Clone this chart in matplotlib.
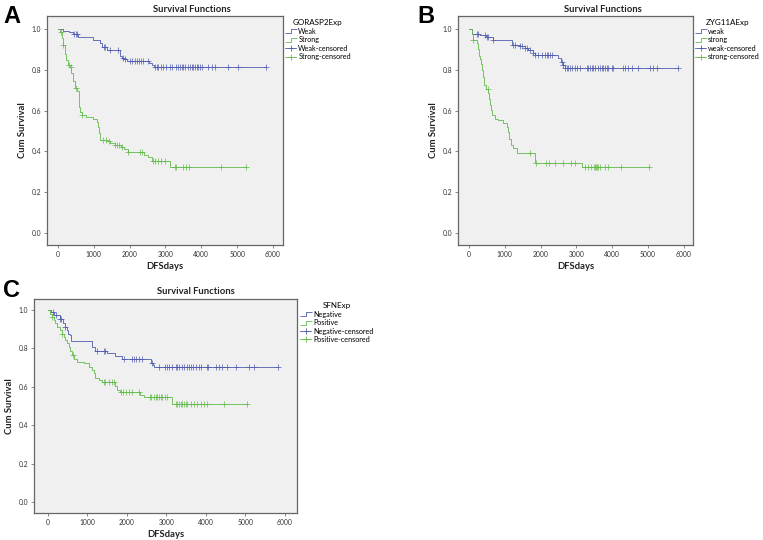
import numpy as np
import matplotlib
matplotlib.use("Agg")
import matplotlib.pyplot as plt
from matplotlib.lines import Line2D
from matplotlib.path import Path

plt.rcParams['font.family'] = ['Lato', 'DejaVu Sans']

W, H = 763, 540  # figure size in px

# ---------------- panel A : GORASP2Exp ----------------
a_weak_t = [0, 150, 300, 430, 570, 990, 1170, 1220, 1360, 1730, 1780, 1830, 1920, 2550, 2610, 2690]
a_weak_s = [1.0, 0.99, 0.985, 0.975, 0.963, 0.948, 0.93, 0.912, 0.895, 0.87, 0.86, 0.853, 0.845,
            0.835, 0.826, 0.815]
a_weak_end = 5810
a_weak_cens = [446, 493, 521, 1283, 1311, 1451, 1683, 1823, 1869, 2009, 2074, 2148, 2195, 2260, 2316,
               2381, 2502, 2707, 2753, 2799, 2874, 2939, 3013, 3125, 3171, 3283, 3339, 3404, 3450,
               3497, 3544, 3618, 3683, 3730, 3776, 3823, 3869, 3916, 3962, 4009, 4195, 4288, 4381,
               4734, 5013, 5810]

a_strong_t = [0, 60, 100, 140, 190, 230, 280, 330, 370, 420, 470, 530, 580, 600, 620, 680, 770, 970,
              1090, 1130, 1150, 1175, 1350, 1440, 1580, 1760, 1850, 1950, 2400, 2510, 2610, 3140]
a_strong_s = [1.0, 0.985, 0.955, 0.92, 0.88, 0.85, 0.825, 0.815, 0.785, 0.745, 0.71, 0.695, 0.67,
              0.62, 0.595, 0.58, 0.568, 0.558, 0.542, 0.522, 0.49, 0.457, 0.449, 0.44, 0.43, 0.42,
              0.41, 0.395, 0.384, 0.372, 0.355, 0.323]
a_strong_end = 5240
a_strong_cens = [75, 140, 298, 354, 512, 680, 1256, 1330, 1423, 1581, 1656, 1702, 1786, 1953, 2279,
                 2353, 2651, 2716, 2791, 2884, 2977, 3256, 3284, 3488, 3581, 3656, 4540, 5240]

# ---------------- panel B : ZYG11AExp ----------------
b_weak_t = [0, 93, 307, 466, 680, 1192, 1424, 1564, 1657, 1797, 1843, 2495, 2569, 2634, 2681]
b_weak_s = [1.0, 0.977, 0.969, 0.961, 0.945, 0.923, 0.917, 0.907, 0.896, 0.884, 0.871, 0.858, 0.839,
            0.826, 0.81]
b_weak_end = 5846
b_weak_cens = [214, 261, 447, 494, 540, 680, 1238, 1285, 1424, 1471, 1564, 1611, 1704, 1797, 1843,
               1936, 2029, 2123, 2169, 2216, 2262, 2309, 2588, 2635, 2681, 2728, 2774, 2821, 2867,
               2960, 3007, 3100, 3287, 3333, 3379, 3426, 3473, 3519, 3612, 3659, 3705, 3752, 3798,
               3845, 3891, 3985, 4031, 4311, 4357, 4451, 4544, 4730, 5056, 5149, 5242, 5846]

b_strong_t = [0, 93, 121, 214, 242, 279, 307, 335, 372, 400, 428, 466, 521, 559, 586, 614, 652, 726,
              819, 959, 1052, 1098, 1126, 1164, 1238, 1331, 1835, 3166]
b_strong_s = [1.0, 0.975, 0.945, 0.93, 0.9, 0.87, 0.855, 0.83, 0.8, 0.765, 0.725, 0.708, 0.684, 0.659,
              0.627, 0.602, 0.578, 0.561, 0.553, 0.537, 0.521, 0.496, 0.463, 0.431, 0.415, 0.392,
              0.345, 0.323]
b_strong_end = 5028
b_strong_cens = [121, 520, 1695, 1863, 2161, 2235, 2393, 2626, 2859, 2952, 3231, 3324, 3417, 3482,
                 3510, 3557, 3575, 3603, 3650, 3790, 3883, 4255, 5028]

# ---------------- panel C : SFNExp ----------------
c_neg_t = [0, 80, 170, 300, 380, 440, 480, 520, 560, 600, 1130, 1200, 1500, 1710, 1880, 2620, 2660,
           2700]
c_neg_s = [1.0, 0.99, 0.973, 0.955, 0.934, 0.912, 0.895, 0.877, 0.869, 0.84, 0.808, 0.786, 0.774,
           0.762, 0.744, 0.725, 0.713, 0.703]
c_neg_end = 5832
c_neg_cens = [135, 220, 304, 338, 447, 1249, 1418, 1460, 1924, 2135, 2178, 2245, 2304, 2372, 2641,
              2810, 2954, 3005, 3064, 3148, 3233, 3275, 3317, 3384, 3444, 3511, 3570, 3612, 3680,
              3739, 3823, 3866, 4018, 4060, 4245, 4330, 4414, 4541, 4752, 5089, 5216, 5832]

c_pos_t = [0, 50, 110, 150, 190, 240, 300, 360, 400, 440, 490, 530, 570, 610, 675, 743, 912, 1038,
           1123, 1165, 1207, 1291, 1376, 1696, 1755, 1823, 2346, 2431, 3148]
c_pos_s = [1.0, 0.979, 0.964, 0.947, 0.93, 0.912, 0.895, 0.877, 0.86, 0.843, 0.826, 0.808, 0.786,
           0.765, 0.744, 0.731, 0.722, 0.705, 0.687, 0.67, 0.648, 0.636, 0.624, 0.602, 0.585, 0.573,
           0.559, 0.545, 0.513]
c_pos_end = 5047
c_pos_cens = [110, 360, 630, 1418, 1460, 1545, 1629, 1671, 1857, 1908, 1967, 2051, 2135, 2304, 2582,
              2616, 2684, 2726, 2768, 2810, 2853, 2895, 2954, 3022, 3233, 3275, 3317, 3359, 3402,
              3444, 3486, 3528, 3612, 3697, 3781, 3866, 3950, 4035, 4457, 5047]

BLUE = '#4f5cb0'
GREEN = '#62bb4a'


def rect(l, t, r, b):
    return [l / W, 1 - b / H, (r - l) / W, (b - t) / H]


def km(ax, t, s, end, cens, color):
    tt = list(t) + [end]
    ss = list(s) + [s[-1]]
    ax.step(tt, ss, where='post', color=color, lw=0.6)
    idx = np.searchsorted(t, cens, side='right') - 1
    ax.plot(cens, np.array(s)[idx], '+', color=color, ms=4, mew=0.5)


step_marker = Path([(-1, -0.35), (0.05, -0.35), (0.05, 0.35), (1, 0.35)],
                   [Path.MOVETO, Path.LINETO, Path.LINETO, Path.LINETO])


def panel(box, xlim, ylim, curves, title, labels, title_x, title_y, leg_x):
    ax = fig.add_axes(rect(*box))
    ax.set_facecolor('#f0f0f0')
    for c in curves:
        km(ax, *c)
    ax.set_xlim(*xlim)
    ax.set_ylim(*ylim)
    ax.set_xticks(np.arange(0, 6001, 1000))
    ax.set_yticks(np.arange(0, 1.01, 0.2))
    ax.yaxis.set_major_formatter(plt.FormatStrFormatter('%.1f'))
    ax.tick_params(direction='out', length=2.5, width=0.5, colors='#555555', labelsize=4.9,
                   pad=1.5, labelcolor='#333333')
    for sp in ax.spines.values():
        sp.set_color('#666666')
        sp.set_linewidth(0.9)
    ax.set_xlabel('DFSdays', fontsize=6.8, fontweight='bold', labelpad=3.5, color='#222222')
    ax.set_ylabel('Cum Survival', fontsize=6.8, fontweight='bold', labelpad=3.5, color='#222222')
    fig.text(title_x / W, 1 - title_y / H, 'Survival Functions', fontsize=6.8, fontweight='bold',
             ha='center', va='center', color='#222222')
    handles = [
        Line2D([], [], color=BLUE, lw=0, marker=step_marker, ms=8.6, mfc='none', mew=0.6),
        Line2D([], [], color=GREEN, lw=0, marker=step_marker, ms=8.6, mfc='none', mew=0.6),
        Line2D([], [], color=BLUE, lw=0.6, marker='+', ms=5, mew=0.6),
        Line2D([], [], color=GREEN, lw=0.6, marker='+', ms=5, mew=0.6),
    ]
    leg = ax.legend(handles, labels, title=title, loc='upper left', bbox_to_anchor=(leg_x, 0.985),
                    frameon=False, fontsize=5.2, title_fontsize=5.8, handlelength=1.6,
                    handletextpad=0.25, labelspacing=0.2, borderpad=0, borderaxespad=0)
    return ax


fig = plt.figure(figsize=(W / 100, H / 100), dpi=100)

panel((47, 16, 283, 245), (-307, 6280), (-0.059, 1.064),
      [(a_weak_t, a_weak_s, a_weak_end, a_weak_cens, BLUE),
       (a_strong_t, a_strong_s, a_strong_end, a_strong_cens, GREEN)],
      'GORASP2Exp', ['Weak', 'Strong', 'Weak-censored', 'Strong-censored'], 192, 10, 1.008)

panel((458, 16, 693, 245), (-307, 6257), (-0.059, 1.064),
      [(b_weak_t, b_weak_s, b_weak_end, b_weak_cens, BLUE),
       (b_strong_t, b_strong_s, b_strong_end, b_strong_cens, GREEN)],
      'ZYG11AExp', ['weak', 'strong', 'weak-censored', 'strong-censored'], 603, 10, 1.008)

panel((34, 299, 297, 513), (-347, 6304), (-0.057, 1.057),
      [(c_neg_t, c_neg_s, c_neg_end, c_neg_cens, BLUE),
       (c_pos_t, c_pos_s, c_pos_end, c_pos_cens, GREEN)],
      'SFNExp', ['Negative', 'Positive', 'Negative-censored', 'Positive-censored'], 196, 292, 1.011)

for letter, x, y in [('A', 3, 23), ('B', 417, 23), ('C', 3, 297)]:
    fig.text(x / W, 1 - y / H, letter, fontsize=17, fontweight='bold', family='Liberation Sans',
             ha='left', va='baseline')

fig.savefig('out.png', dpi=100)
